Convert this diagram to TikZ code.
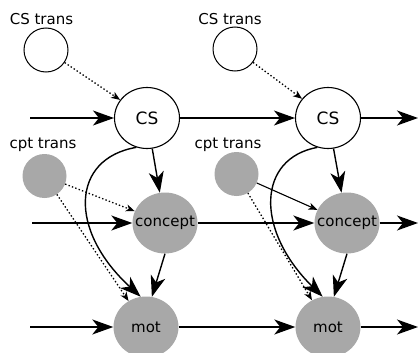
\documentclass[tikz,border=0pt]{standalone}
\usepackage{fontspec}
\setmainfont{DejaVu Sans}
\usetikzlibrary{arrows.meta,shapes.geometric}
\definecolor{nodegray}{RGB}{168,168,168}
\newcommand{\ztext}[1]{\makebox[0pt]{#1}}
\begin{document}
\begin{tikzpicture}[x=1pt,y=-1pt,
  var/.style={ellipse,draw,line width=1.1pt,minimum width=65pt,minimum height=61pt,inner sep=0pt,font=\fontsize{17}{17}\selectfont},
  hid/.style={ellipse,fill=nodegray,minimum width=65pt,minimum height=61pt,inner sep=0pt,font=\fontsize{15}{15}\selectfont},
  trans/.style={circle,draw,line width=1pt,minimum size=44pt,inner sep=0pt},
  ctrans/.style={circle,fill=nodegray,minimum size=44pt,inner sep=0pt},
  lbl/.style={font=\fontsize{15}{15}\selectfont,inner sep=0pt},
  big/.style={line width=1.4pt,-{Stealth[length=21pt,width=15pt,inset=6pt]}},
  dot/.style={line width=1.3pt,dash pattern=on 1.4pt off 2.2pt,-{Stealth[length=9pt,width=7pt,inset=2.5pt]}},
  thin/.style={line width=1.1pt,-{Stealth[length=9pt,width=7pt,inset=2.5pt]}}
]
\useasboundingbox (0,0) rectangle (420,353);
% column 1
\node[trans] (cst1) at (46,50) {};
\node[lbl] (cstl1) at (41.5,19) {CS trans};
\node[var] (cs1) at (147,118) {\ztext{CS}};
\node[ctrans] (cpt1) at (44.5,176) {};
\node[lbl] (cptl1) at (43,145) {cpt trans};
\node[hid] (con1) at (165,223) {\ztext{concept}};
\node[hid] (mot1) at (146,327) {\ztext{mot}};
% column 2
\node[trans] (cst2) at (235,49) {};
\node[lbl] (cstl2) at (230,19) {CS trans};
\node[var] (cs2) at (328,118) {\ztext{CS}};
\node[ctrans] (cpt2) at (236.5,174) {};
\node[lbl] (cptl2) at (228,145) {cpt trans};
\node[hid] (con2) at (347,223) {\ztext{concept}};
\node[hid] (mot2) at (328,327) {\ztext{mot}};
% free ends
\coordinate (inA) at (30,118);
\coordinate (inB) at (32,223);
\coordinate (inC) at (30,327);
\coordinate (outA) at (418,118);
\coordinate (outB) at (418,223);
\coordinate (outC) at (418,327);
% horizontal
\draw[big] (inA) -- (cs1.west);
\draw[big] (inB) -- (con1.west);
\draw[big] (inC) -- (mot1.west);
\draw[big] (cs1.east) -- (cs2.west);
\draw[big] (con1.east) -- (con2.west);
\draw[big] (mot1.east) -- (mot2.west);
\draw[big] (cs2.east) -- (outA);
\draw[big] (con2.east) -- (outB);
\draw[big] (mot2.east) -- (outC);
% vertical
\draw[big] (cs1) -- (con1);
\draw[big] (con1.south) -- (mot1.79);
\draw[big] (cs1.250) .. controls +(-65,11) and +(-73,-67) .. (mot1.100);
\draw[big] (cs2) -- (con2);
\draw[big] (con2.south) -- (mot2.79);
\draw[big] (cs2.250) .. controls +(-60,11) and +(-68,-67) .. (mot2.100);
% transitions
\draw[dot] (cst1) -- (cs1);
\draw[dot] (cst2) -- (cs2);
\draw[dot] (cpt1) -- (con1);
\draw[dot] (cpt1) -- (mot1);
\draw[thin] (cpt2) -- (con2);
\draw[dot] (cpt2) -- (mot2);
\end{tikzpicture}
\end{document}
